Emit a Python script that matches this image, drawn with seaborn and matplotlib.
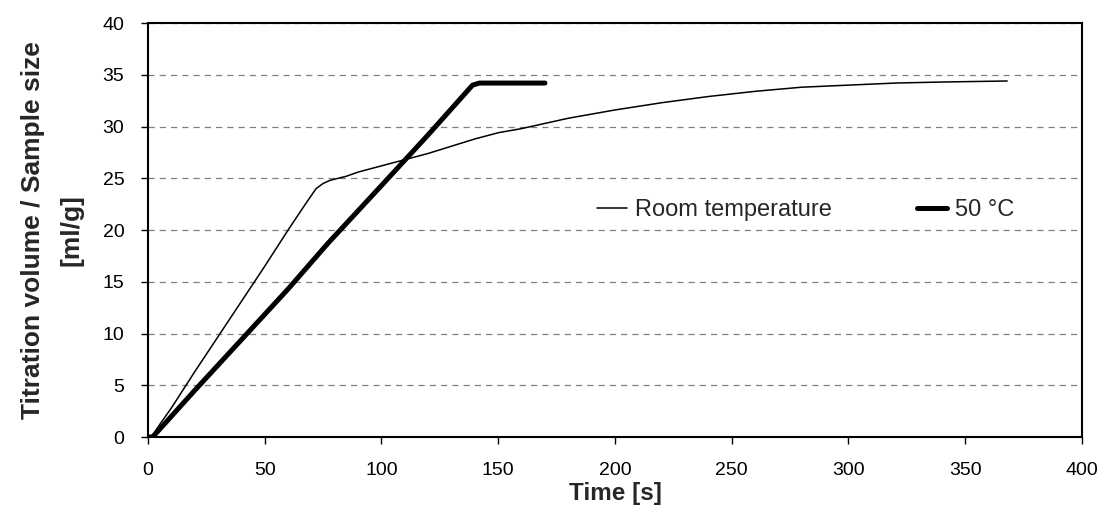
import matplotlib
matplotlib.use("Agg")
import matplotlib.pyplot as plt
import seaborn as sns
import pandas as pd

# data
room_time = [0, 2, 5, 10, 20, 30, 40, 50, 60, 68, 72, 75, 78, 85, 90, 100, 110,
             120, 130, 140, 150, 160, 170, 180, 190, 200, 220, 240, 260, 280,
             300, 320, 340, 368]
room_vol = [0, 0.2, 1.2, 2.8, 6.3, 9.7, 13.1, 16.5, 20.0, 22.7, 24.0, 24.5, 24.8,
            25.2, 25.6, 26.2, 26.8, 27.4, 28.1, 28.8, 29.4, 29.8, 30.3, 30.8,
            31.2, 31.6, 32.3, 32.9, 33.4, 33.8, 34.0, 34.2, 34.3, 34.4]

hot_time = [0, 2, 20, 40, 60, 77, 100, 120, 139, 142, 150, 160, 170]
hot_vol = [0, 0, 4.5, 9.4, 14.3, 18.7, 24.3, 29.2, 34.0, 34.2, 34.2, 34.2, 34.2]

df_room = pd.DataFrame({"time": room_time, "vol": room_vol})
df_hot = pd.DataFrame({"time": hot_time, "vol": hot_vol})

sns.set_style("white")
plt.rcParams["font.family"] = ["Liberation Sans", "DejaVu Sans"]

fig = plt.figure(figsize=(11.02, 5.21), dpi=100)
ax = fig.add_axes([0.1343, 0.1612, 0.8475, 0.7946])

sns.lineplot(data=df_room, x="time", y="vol", ax=ax, color="black", linewidth=1.1,
             label="Room temperature", estimator=None, sort=False)
sns.lineplot(data=df_hot, x="time", y="vol", ax=ax, color="black", linewidth=3.6,
             label="50 °C", estimator=None, sort=False)

ax.set_xlim(0, 400)
ax.set_ylim(0, 40)
ax.set_xticks(range(0, 401, 50))
ax.set_yticks(range(0, 41, 5))
ax.yaxis.grid(True, linestyle=(0, (5, 4)), color="#808080", linewidth=0.9)
ax.set_axisbelow(True)
for s in ax.spines.values():
    s.set_color("black")
    s.set_linewidth(1.5)
ax.tick_params(axis="both", direction="out", length=5, width=1, colors="black",
               labelsize=14, left=True, bottom=True)
ax.tick_params(axis="x", pad=13)
ax.tick_params(axis="y", pad=12)

ax.set_xlabel("Time [s]", fontsize=17.5, fontweight="bold", labelpad=2)
ax.set_ylabel("Titration volume / Sample size\n[ml/g]", fontsize=19,
              fontweight="bold", labelpad=14, linespacing=1.75)

ax.legend(loc="center left", bbox_to_anchor=(0.4807, 0.548), ncol=2, frameon=False,
          fontsize=17, handlelength=1.27, handletextpad=0.34, columnspacing=3.6,
          borderpad=0, borderaxespad=0)

fig.savefig("out.png", dpi=100)
